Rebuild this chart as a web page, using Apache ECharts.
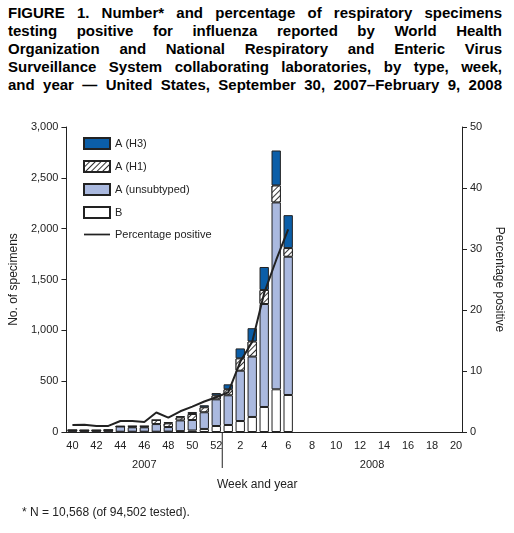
<!DOCTYPE html>
<html>
<head>
<meta charset="utf-8">
<script src="https://cdn.jsdelivr.net/npm/echarts@6/dist/echarts.min.js"></script>
<style>
  body { margin: 0; background: #fff; }
  #title { position: absolute; left: 8px; top: 4px; width: 494px; font: bold 15px "Liberation Sans", Arial, sans-serif; line-height: 18px; color: #000; }
  #title div { text-align: justify; text-align-last: justify; white-space: nowrap; }
  #title div.last { text-align-last: justify; }
  #chart { width: 514px; height: 533px; }
</style>
</head>
<body>
<div id="title">
  <div>FIGURE 1. Number* and percentage of respiratory specimens</div>
  <div>testing positive for influenza reported by World Health</div>
  <div>Organization and National Respiratory and Enteric Virus</div>
  <div>Surveillance System collaborating laboratories, by type, week,</div>
  <div class="last">and year — United States, September 30, 2007–February 9, 2008</div>
</div>
<div id="chart"></div>
<script>
  // weeks 40-52 of 2007, then 1-20 of 2008
  var weeks = ['40','41','42','43','44','45','46','47','48','49','50','51','52',
    '1','2','3','4','5','6','7','8','9','10','11','12','13','14','15','16','17','18','19','20'];
  var aH3 = [0, 0, 0, 0, 5, 3, 3, 0, 13, 13, 20, 20, 23, 49, 98, 131, 226, 344, 324];
  var aH1 = [0, 0, 0, 0, 0, 10, 10, 40, 36, 30, 59, 49, 39, 59, 121, 148, 138, 167, 85];
  var aUnsub = [15, 14, 14, 16, 51, 43, 43, 75, 45, 105, 103, 164, 262, 292, 495, 594, 1013, 1838, 1360];
  var typeB = [2, 2, 2, 2, 3, 3, 3, 3, 4, 9, 15, 30, 59, 69, 108, 148, 246, 420, 364];
  var pctPositive = [1.15, 1.2, 1.0, 1.0, 1.8, 1.8, 1.65, 3.2, 2.35, 3.4, 4.15, 5.0, 5.7, 6.5, 11.5, 14.8, 22.8, 28.2, 33.2];

  var font = '"Liberation Sans", Arial, sans-serif';
  var chart = echarts.init(document.getElementById('chart'));
  var barBase = { type: 'bar', stack: 'n', barWidth: '78%' };

  var option = {
    animation: false,
    textStyle: { fontFamily: font },
    grid: { left: 65, right: 52, top: 127, bottom: 101 },
    legend: {
      orient: 'vertical', left: 78, top: 132, itemWidth: 26, itemHeight: 11, itemGap: 10,
      textStyle: { fontSize: 11, color: '#222', fontFamily: font },
      data: [
        { name: 'A (H3)', icon: 'rect' },
        { name: 'A (H1)', icon: 'rect' },
        { name: 'A (unsubtyped)', icon: 'rect' },
        { name: 'B', icon: 'rect' },
        { name: 'Percentage positive', icon: 'path://M0,5L30,5L30,7L0,7Z' }
      ]
    },
    xAxis: {
      type: 'category', data: weeks,
      axisLine: { lineStyle: { color: '#222' } },
      axisTick: { alignWithLabel: true, interval: 0, lineStyle: { color: '#222' } },
      axisLabel: { interval: 1, color: '#222', fontSize: 11 }
    },
    yAxis: [{
      type: 'value', min: 0, max: 3000, interval: 500,
      name: 'No. of specimens', nameLocation: 'middle', nameGap: 44, nameRotate: 90,
      nameTextStyle: { fontSize: 12, color: '#222' },
      axisLine: { show: true, lineStyle: { color: '#222' } }, axisTick: { show: true },
      splitLine: { show: false },
      axisLabel: { color: '#222', fontSize: 11, formatter: function (v) { return v.toLocaleString('en-US'); } }
    }, {
      type: 'value', min: 0, max: 50, interval: 10,
      name: 'Percentage positive', nameLocation: 'middle', nameGap: 28, nameRotate: -90,
      nameTextStyle: { fontSize: 12, color: '#222' },
      axisLine: { show: true, lineStyle: { color: '#222' } }, axisTick: { show: true },
      splitLine: { show: false },
      axisLabel: { color: '#222', fontSize: 11 }
    }],
    series: [
      Object.assign({}, barBase, { name: 'B', data: typeB, itemStyle: { color: '#fff', borderColor: '#222', borderWidth: 1 } }),
      Object.assign({}, barBase, { name: 'A (unsubtyped)', data: aUnsub, itemStyle: { color: '#aab9df', borderColor: '#222', borderWidth: 1 } }),
      Object.assign({}, barBase, { name: 'A (H1)', data: aH1, itemStyle: { color: '#fff', borderColor: '#222', borderWidth: 1,
        decal: { symbol: 'rect', symbolSize: 1, dashArrayX: [1, 0], dashArrayY: [1, 3], rotation: -Math.PI / 4, color: '#333', backgroundColor: '#fff' } } }),
      Object.assign({}, barBase, { name: 'A (H3)', data: aH3, itemStyle: { color: '#0b5ea8', borderColor: '#222', borderWidth: 1 } }),
      { name: 'Percentage positive', type: 'line', yAxisIndex: 1, data: pctPositive, symbol: 'none',
        lineStyle: { color: '#222', width: 2 }, itemStyle: { color: '#222' } }
    ]
  };
  chart.setOption(option);

  // year divider and labels
  var x52 = chart.convertToPixel({ xAxisIndex: 0 }, '52');
  var x1 = chart.convertToPixel({ xAxisIndex: 0 }, '1');
  var xDiv = (x52 + x1) / 2;
  var x2007 = chart.convertToPixel({ xAxisIndex: 0 }, '46');
  var x2008 = chart.convertToPixel({ xAxisIndex: 0 }, '13');
  chart.setOption({
    graphic: [
      { type: 'line', shape: { x1: xDiv, y1: 432, x2: xDiv, y2: 468 }, style: { stroke: '#222', lineWidth: 1 } },
      { type: 'text', x: x2007, y: 459, style: { text: '2007', fontSize: 11, fill: '#222', align: 'center', fontFamily: font } },
      { type: 'text', x: x2008, y: 459, style: { text: '2008', fontSize: 11, fill: '#222', align: 'center', fontFamily: font } },
      { type: 'text', x: xDiv + 35, y: 479, style: { text: 'Week and year', fontSize: 12, fill: '#222', align: 'center', fontFamily: font } },
      { type: 'text', x: 22, y: 507, style: { text: '* N = 10,568 (of 94,502 tested).', fontSize: 12, fill: '#222', fontFamily: font } }
    ]
  });
</script>
</body>
</html>
